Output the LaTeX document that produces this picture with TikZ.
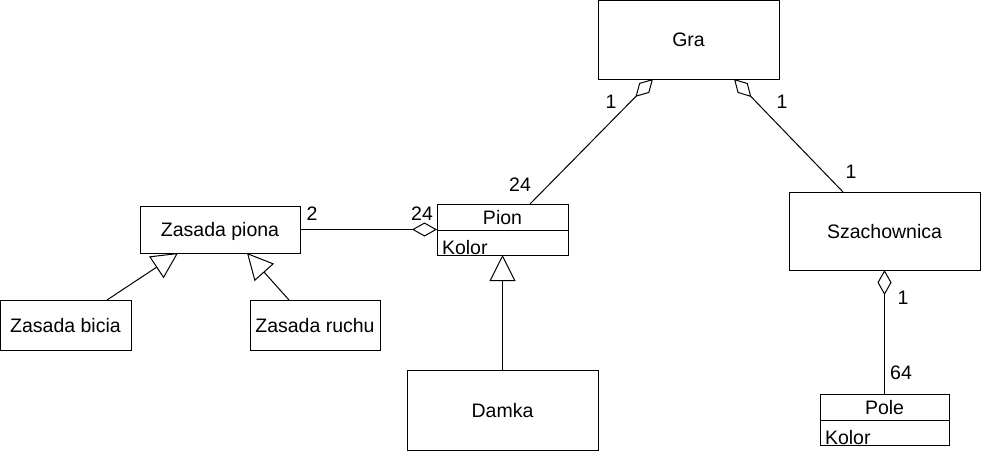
\documentclass[tikz,border=0pt]{standalone}
\usepackage{fontspec}
\setmainfont{Liberation Sans}
\usetikzlibrary{arrows.meta, positioning}

\begin{document}
\begin{tikzpicture}[x=1pt, y=-1pt, line width=1pt, font=\fontsize{19.5}{23}\selectfont,
    box/.style={draw, rectangle, inner sep=0pt, outer sep=0pt, text depth=0pt},
    attr/.style={draw, rectangle, outer sep=0pt, inner xsep=5pt, inner ysep=1pt,
                 text height=23pt, text depth=0pt, align=left},
    mult/.style={inner sep=0pt},
    agg/.style={-{Diamond[open, length=25pt, width=14pt]}},
    inherit/.style={-{Triangle[open, length=26pt, width=26pt]}}]
     \useasboundingbox (0,0) rectangle (981,451);

     \node[box, minimum width=181pt, minimum height=79pt]  (gra)    at (688.5,39.5) {Gra};
     \node[box, minimum width=191pt, minimum height=78pt]  (szach)  at (884.5,231)  {Szachownica};
     \node[box, minimum width=160pt, minimum height=47pt]  (zpiona) at (220,229.5)  {Zasada piona};
     \node[box, minimum width=131pt, minimum height=50pt]  (bicia)  at (65.5,325)   {Zasada bicia};
     \node[box, minimum width=130pt, minimum height=50pt]  (ruchu)  at (315,325)    {Zasada ruchu};
     \node[box, minimum width=191pt, minimum height=80pt]  (damka)  at (502.5,410)  {Damka};
     \node[box, minimum width=131pt, minimum height=26pt]  (pion)   at (502.5,217)  {Pion};
     \node[attr, text width=121pt] (pion kolor) [below=0pt of pion] {Kolor};
     \node[box, minimum width=129pt, minimum height=26pt]  (pole)   at (884.5,407)  {Pole};
     \node[attr, text width=119pt] (pole kolor) [below=0pt of pole] {Kolor};

     % multiplicities
     \node[mult] (m gra pion)   at (611,102) {1};
     \node[mult] (m pion gra)   at (520,185) {24};
     \node[mult] (m gra szach)  at (782,102) {1};
     \node[mult] (m szach gra)  at (851,172) {1};
     \node[mult] (m zasada)     at (312,214) {2};
     \node[mult] (m pion zas)   at (422,214) {24};
     \node[mult] (m szach pole) at (903,298) {1};
     \node[mult] (m pole szach) at (901,373) {64};

     \path[agg] ([xshift=-38pt]pion.north east)  edge ([xshift=55pt]gra.south west)
                ([xshift=54pt]szach.north west)  edge ([xshift=-45pt]gra.south east)
                (zpiona.east)                    edge (zpiona.east -| pion.west)
                (pole.north)                     edge (szach.south);
     \path[inherit] ([xshift=-24pt]bicia.north east) edge ([xshift=38pt]zpiona.south west)
                    ([xshift=39pt]ruchu.north west)  edge ([xshift=107pt]zpiona.south west)
                    (damka.north)                    edge (pion kolor.south);
\end{tikzpicture}
\end{document}
